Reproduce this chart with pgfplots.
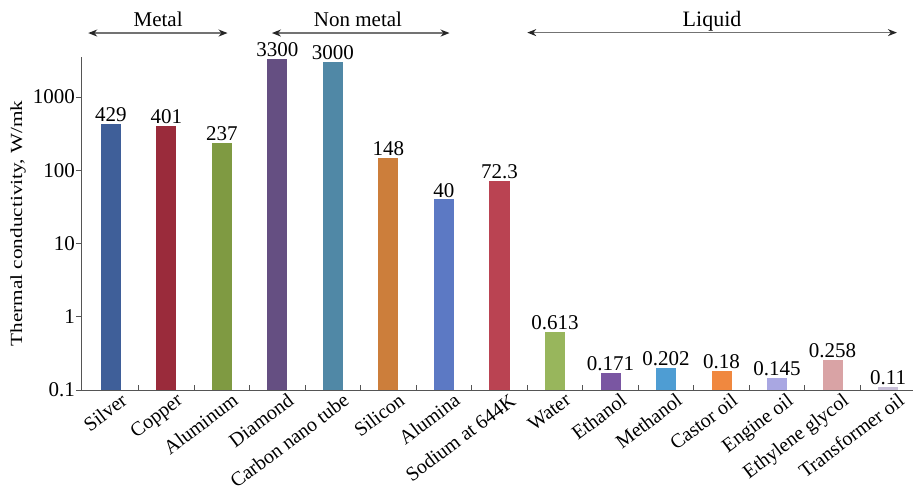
\documentclass[border=0pt]{standalone}
\usepackage{pgfplots}
\pgfplotsset{compat=1.18}
\usepackage{fontspec}
\setmainfont{Liberation Serif}
\usetikzlibrary{arrows.meta}
\definecolor{cSilver}{HTML}{3F5F99}
\definecolor{cCopper}{HTML}{9A2B3B}
\definecolor{cAlum}{HTML}{7F9A42}
\definecolor{cDiamond}{HTML}{654F82}
\definecolor{cCNT}{HTML}{5088A6}
\definecolor{cSilicon}{HTML}{CC7E3B}
\definecolor{cAlumina}{HTML}{5C79C4}
\definecolor{cSodium}{HTML}{BA4352}
\definecolor{cWater}{HTML}{98B65C}
\definecolor{cEthanol}{HTML}{7A56A2}
\definecolor{cMethanol}{HTML}{4E9DD3}
\definecolor{cCastor}{HTML}{F0883F}
\definecolor{cEngine}{HTML}{A9A7E2}
\definecolor{cEthylene}{HTML}{D9A3A5}
\definecolor{cTrans}{HTML}{C8BFD8}
\definecolor{axgray}{HTML}{555555}
\begin{document}
\begin{tikzpicture}
\begin{axis}[
  name=ax,
  scale only axis,
  width=832pt, height=333pt,
  ymode=log, log origin y=infty,
  xmin=-0.54, xmax=14.45,
  ymin=0.1, ymax=3530,
  axis x line*=bottom, axis y line*=left,
  x axis line style={-}, y axis line style={-},
  axis line style={axgray, line width=0.9pt},
  xtick={0,...,14},
  xticklabels={Silver,Copper,Aluminum,Diamond,Carbon nano tube,Silicon,Alumina,Sodium at 644K,Water,Ethanol,Methanol,Castor oil,Engine oil,Ethylene glycol,Transformer oil},
  x tick label style={rotate=37, anchor=north east, font=\fontsize{20}{20}\selectfont, inner sep=0pt, xshift=6pt, yshift=-7pt},
  major x tick style={draw=none},
  minor xtick={0.5,1.5,...,13.5},
  xminorticks=true,
  minor tick length=5pt,
  xtick align=inside,
  ytick={0.1,1,10,100,1000},
  yticklabels={0.1,1,10,100,1000},
  ytick align=outside,
  yminorticks=false,
  major tick length=5pt,
  tick style={axgray, line width=0.8pt},
  y tick label style={font=\fontsize{21}{21}\selectfont, inner sep=1pt},
  ylabel={\scalebox{1.25}[1]{Thermal conductivity, W/mk}},
  ylabel style={at={(axis description cs:-0.0757,0.5)}, anchor=center, font=\fontsize{17}{17}\selectfont},
  clip=false,
  barsty/.style={ybar, draw=none, bar width=20pt, bar shift=0pt,
    nodes near coords, point meta=explicit symbolic,
    nodes near coords style={font=\fontsize{21}{21}\selectfont, anchor=south, inner sep=2pt, text=black}},
]
\addplot[barsty, fill=cSilver] coordinates {(0,429) [429]};
\addplot[barsty, fill=cCopper] coordinates {(1,401) [401]};
\addplot[barsty, fill=cAlum] coordinates {(2,237) [237]};
\addplot[barsty, fill=cDiamond] coordinates {(3,3300) [3300]};
\addplot[barsty, fill=cCNT] coordinates {(4,3000) [3000]};
\addplot[barsty, fill=cSilicon] coordinates {(5,148) [148]};
\addplot[barsty, fill=cAlumina] coordinates {(6,40) [40]};
\addplot[barsty, fill=cSodium] coordinates {(7,72.3) [72.3]};
\addplot[barsty, fill=cWater] coordinates {(8,0.613) [0.613]};
\addplot[barsty, fill=cEthanol] coordinates {(9,0.171) [0.171]};
\addplot[barsty, fill=cMethanol] coordinates {(10,0.202) [0.202]};
\addplot[barsty, fill=cCastor] coordinates {(11,0.18) [0.18]};
\addplot[barsty, fill=cEngine] coordinates {(12,0.145) [0.145]};
\addplot[barsty, fill=cEthylene] coordinates {(13,0.258) [0.258]};
\addplot[barsty, fill=cTrans] coordinates {(14,0.11) [0.11]};
% group arrows
\tikzset{grp/.style={{Stealth[length=9pt,width=7pt,black!85]}-{Stealth[length=9pt,width=7pt,black!85]}, line width=1.4pt, black!55}}
\draw[grp] (axis cs:-0.41,7500) -- (axis cs:2.1,7500);
\draw[grp] (axis cs:2.9,7500) -- (axis cs:6.1,7500);
\draw[grp] (axis cs:7.5,7600) -- (axis cs:14.16,7600);
\node[anchor=base, font=\fontsize{21}{21}\selectfont] at (axis cs:0.85,9300) {Metal};
\node[anchor=base, font=\fontsize{21}{21}\selectfont] at (axis cs:4.45,9300) {Non metal};
\node[anchor=base, font=\fontsize{22}{22}\selectfont] at (axis cs:10.83,9100) {Liquid};
\end{axis}
\pgfresetboundingbox
\path[use as bounding box] ([shift={(-81pt,-100pt)}]ax.south west) rectangle ([shift={(832pt,390pt)}]ax.south west);
\end{tikzpicture}
\end{document}
